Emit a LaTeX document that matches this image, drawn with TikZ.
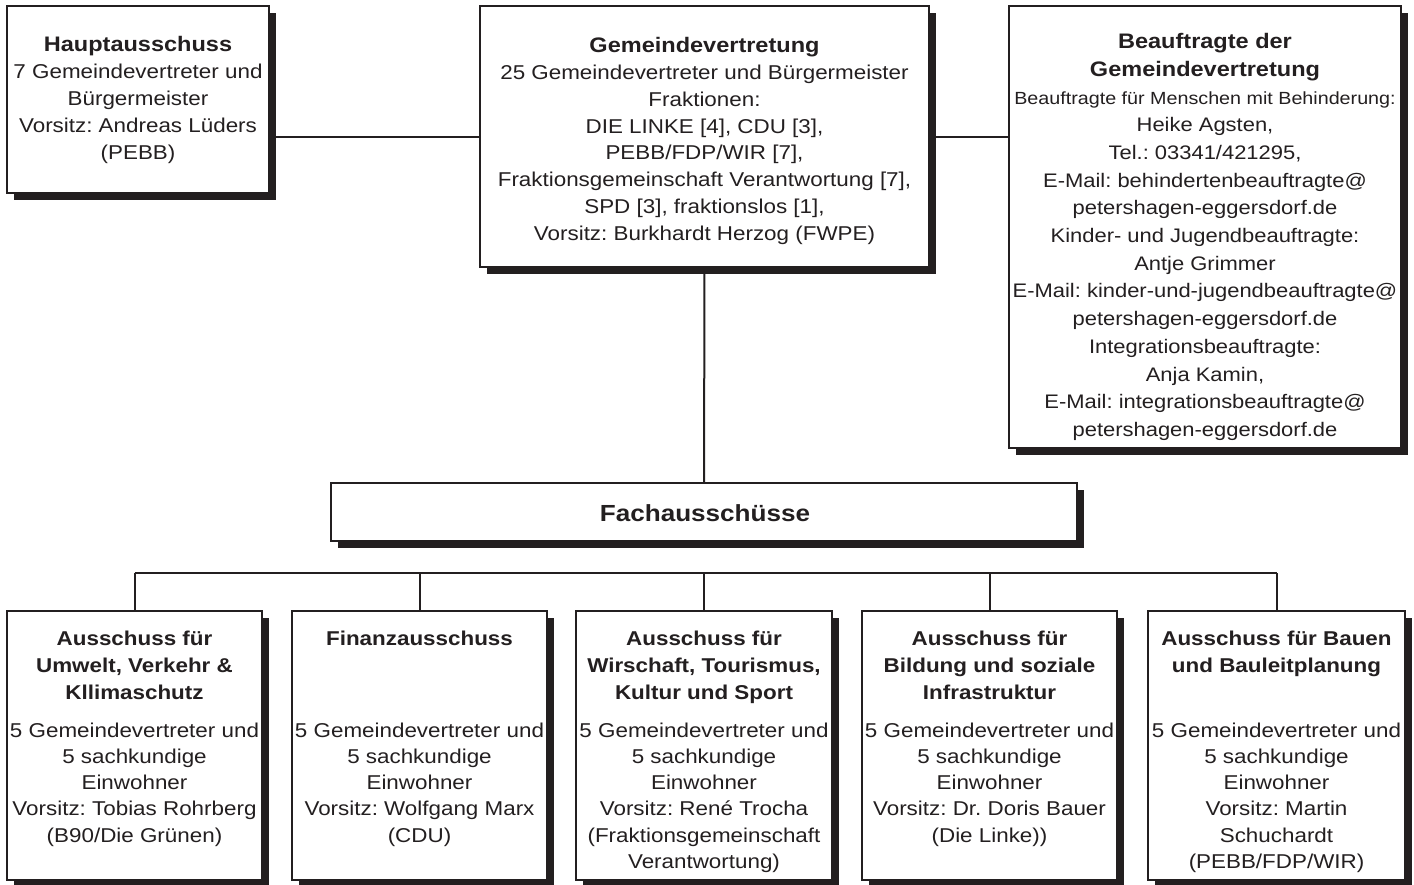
\documentclass[tikz,border=0pt]{standalone}
\usepackage{fontspec}
\setmainfont{Liberation Sans}[FakeStretch=1.12]
\frenchspacing
\usetikzlibrary{shadows}
\definecolor{ink}{RGB}{35,31,32}
\newcommand\bt[1]{{\fontsize{21}{26.8}\selectfont\bfseries #1}}
\tikzset{
 box/.style={draw=ink, line width=1.8pt, fill=white, inner sep=0pt,
   drop shadow={shadow xshift=7pt, shadow yshift=-7pt, fill=ink, opacity=1}},
 conn/.style={draw=ink, line width=2pt},
 txt/.style={text=ink, align=center, inner sep=0pt, font=\fontsize{20}{26.8}\selectfont},
 btxt/.style={text=ink, align=center, inner sep=0pt, font=\fontsize{19.6}{27.7}\selectfont},
 ttl/.style={text=ink, align=center, inner sep=0pt, anchor=north, font=\fontsize{20}{27}\selectfont\bfseries},
 body/.style={text=ink, align=center, inner sep=0pt, anchor=north, font=\fontsize{20}{26.2}\selectfont},
 small/.style={minimum width=255pt, minimum height=269pt},
}
\begin{document}
\begin{tikzpicture}[x=1pt,y=-1pt]
\useasboundingbox (0,0) rectangle (1414,884);
% boxes
\node[box, minimum width=262pt, minimum height=187pt] (haupt) at (138,99.5) {};
\node[box, minimum width=449pt, minimum height=261pt] (gemeinde) at (704.5,136.5) {};
\node[box, minimum width=392pt, minimum height=442pt] (beauf) at (1205,227) {};
\node[box, minimum width=746pt, minimum height=58pt] (fach) at (704,512) {};
\node[box, small] (b1) at (134.5,745.5) {};
\node[box, small] (b2) at (419.5,745.5) {};
\node[box, small, minimum width=256pt] (b3) at (704,745.5) {};
\node[box, small] (b4) at (989.5,745.5) {};
\node[box, small, minimum width=257pt] (b5) at (1276.5,745.5) {};
% connectors
\coordinate (hl) at (0,137);
\coordinate (bus) at (0,573);
\draw[conn] (haupt.east |- hl) -- (gemeinde.west |- hl);
\draw[conn] (gemeinde.east |- hl) -- (beauf.west |- hl);
\draw[conn] (gemeinde.south) -- (fach.north);
\draw[conn] (b1.north |- bus) -- (b5.north |- bus);
\foreach \b in {b1,b2,b3,b4,b5} { \draw[conn] (\b.north |- bus) -- (\b.north); }
% texts top
\node[txt] (thaupt) at (138,100) {\bt{Hauptausschuss}\\7 Gemeindevertreter und\\Bürgermeister\\Vorsitz: Andreas Lüders\\(PEBB)};
\node[txt] (tgem) at (704.5,141) {\bt{Gemeindevertretung}\\25 Gemeindevertreter und Bürgermeister\\Fraktionen:\\DIE LINKE [4], CDU [3],\\PEBB/FDP/WIR [7],\\Fraktionsgemeinschaft Verantwortung [7],\\SPD [3], fraktionslos [1],\\Vorsitz: Burkhardt Herzog (FWPE)};
\node[btxt] (tbeauf) at (1205,237) {\bt{Beauftragte der}\\\bt{Gemeindevertretung}\\{\fontsize{17.6}{20}\selectfont Beauftragte für Menschen mit Behinderung:}\\Heike Agsten,\\Tel.: 03341/421295,\\E-Mail: behindertenbeauftragte@\\petershagen-eggersdorf.de\\Kinder- und Jugendbeauftragte:\\Antje Grimmer\\E-Mail: kinder-und-jugendbeauftragte@\\petershagen-eggersdorf.de\\Integrationsbeauftragte:\\Anja Kamin,\\E-Mail: integrationsbeauftragte@\\petershagen-eggersdorf.de};
\node[text=ink, inner sep=0pt, font=\fontsize{23.3}{28}\selectfont\bfseries] (tfach) at (705,513) {Fachausschüsse};
% bottom titles
\node[ttl] (t1) at (134.5,631) {Ausschuss für\\Umwelt, Verkehr \&\\Kllimaschutz};
\node[ttl] (t2) at (419.5,631) {Finanzausschuss};
\node[ttl] (t3) at (704,631) {Ausschuss für\\Wirschaft, Tourismus,\\Kultur und Sport};
\node[ttl] (t4) at (989.5,631) {Ausschuss für\\Bildung und soziale\\Infrastruktur};
\node[ttl] (t5) at (1276.5,631) {Ausschuss für Bauen\\und Bauleitplanung};
% bottom bodies
\node[body] (d1) at (134.5,722.5) {5 Gemeindevertreter und\\5 sachkundige\\Einwohner\\Vorsitz: Tobias Rohrberg\\(B90/Die Grünen)};
\node[body] (d2) at (419.5,722.5) {5 Gemeindevertreter und\\5 sachkundige\\Einwohner\\Vorsitz: Wolfgang Marx\\(CDU)};
\node[body] (d3) at (704,722.5) {5 Gemeindevertreter und\\5 sachkundige\\Einwohner\\Vorsitz: René Trocha\\(Fraktionsgemeinschaft\\Verantwortung)};
\node[body] (d4) at (989.5,722.5) {5 Gemeindevertreter und\\5 sachkundige\\Einwohner\\Vorsitz: Dr. Doris Bauer\\(Die Linke))};
\node[body] (d5) at (1276.5,722.5) {5 Gemeindevertreter und\\5 sachkundige\\Einwohner\\Vorsitz: Martin\\Schuchardt\\(PEBB/FDP/WIR)};
\end{tikzpicture}
\end{document}
